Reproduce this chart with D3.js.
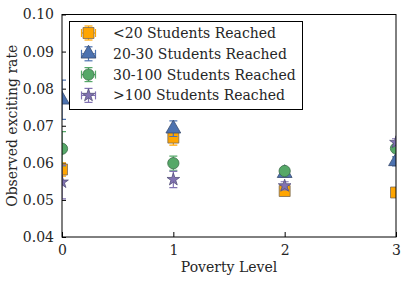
<!DOCTYPE html>
<html>
  <head>
    <meta charset="utf-8" />
    <title>Exciting rate</title>
    <script src="https://cdn.jsdelivr.net/npm/d3@7"></script>
    <style>
      body { margin: 0; background: #fff; }
      text { font-family: "DejaVu Serif", serif; fill: #262626; }
    </style>
  </head>
  <body>
    <script>
// values, one array per group
var levels = [0, 1, 2, 3];
var seriesNames = ["<20 Students Reached", "20-30 Students Reached",
                   "30-100 Students Reached", ">100 Students Reached"];
var under20   = [0.0582, 0.0668, 0.0524, 0.0520];
var under20E  = [0.0018, 0.0020, 0.0010, 0.0010];
var s20to30   = [0.0770, 0.0692, 0.0572, 0.0604];
var s20to30E  = [0.0053, 0.0021, 0.0010, 0.0012];
var s30to100  = [0.0638, 0.0599, 0.0578, 0.0639];
var s30to100E = [0.0046, 0.0019, 0.0008, 0.0010];
var over100   = [0.0548, 0.0555, 0.0538, 0.0655];
var over100E  = [0.0045, 0.0022, 0.0011, 0.0010];
var yTicks = [0.04, 0.05, 0.06, 0.07, 0.08, 0.09, 0.10];
var xTicks = [0, 1, 2, 3];

var groups = [
  {name: seriesNames[0], vals: under20,  errs: under20E,  color: "#ffa500", edge: "#7a6a55", shape: d3.symbolSquare,   size: 120},
  {name: seriesNames[1], vals: s20to30,  errs: s20to30E,  color: "#4c72b0", edge: "#3a4d70", shape: d3.symbolTriangle, size: 95},
  {name: seriesNames[2], vals: s30to100, errs: s30to100E, color: "#55a868", edge: "#3d6d4a", shape: d3.symbolCircle,   size: 100},
  {name: seriesNames[3], vals: over100,  errs: over100E,  color: "#8172b2", edge: "#55507a", shape: d3.symbolStar,     size: 50}
];

var w = 408, h = 281;
var pLeft = 62, pRight = 396, pTop = 14.5, pBottom = 237;

var svg = d3.select("body").append("svg")
  .attr("width", w).attr("height", h);

var x = d3.scaleLinear().domain([0, 3]).range([pLeft, pRight]);
var y = d3.scaleLinear().domain([0.04, 0.10]).range([pBottom, pTop]);

svg.append("clipPath").attr("id", "plot")
  .append("rect")
  .attr("x", pLeft).attr("y", pTop)
  .attr("width", pRight - pLeft).attr("height", pBottom - pTop);

// axes, ticks point inward
var yAxis = d3.axisLeft(y).tickValues(yTicks).tickFormat(d3.format(".2f"))
  .tickSizeInner(-4).tickSizeOuter(0).tickPadding(8);
var xAxis = d3.axisBottom(x).tickValues(xTicks).tickFormat(d3.format("d"))
  .tickSizeInner(-5).tickSizeOuter(0).tickPadding(8);

var gy = svg.append("g").attr("transform", "translate(" + pLeft + ",0)").call(yAxis);
var gx = svg.append("g").attr("transform", "translate(0," + pBottom + ")").call(xAxis);
[gy, gx].forEach(function(g) {
  g.select(".domain").remove();
  g.selectAll(".tick line").attr("stroke", "#000");
  g.selectAll(".tick text").style("font-size", "14px").attr("fill", "#262626");
});

var plot = svg.append("g").attr("clip-path", "url(#plot)");
var cap = 4;

groups.forEach(function(s) {
  var g = plot.append("g");
  var pts = levels.map(function(l, i) { return {x: l, v: s.vals[i], e: s.errs[i]}; });
  g.selectAll("line.bar").data(pts).enter().append("line")
    .attr("x1", function(d) { return x(d.x); })
    .attr("x2", function(d) { return x(d.x); })
    .attr("y1", function(d) { return y(d.v - d.e); })
    .attr("y2", function(d) { return y(d.v + d.e); })
    .attr("stroke", s.color).attr("stroke-width", 1.2);
  [-1, 1].forEach(function(sign) {
    g.selectAll("line.cap" + sign).data(pts).enter().append("line")
      .attr("x1", function(d) { return x(d.x) - cap; })
      .attr("x2", function(d) { return x(d.x) + cap; })
      .attr("y1", function(d) { return y(d.v + sign * d.e); })
      .attr("y2", function(d) { return y(d.v + sign * d.e); })
      .attr("stroke", s.color).attr("stroke-width", 1.2);
  });
  g.selectAll("path").data(pts).enter().append("path")
    .attr("d", d3.symbol().type(s.shape).size(s.size))
    .attr("transform", function(d) { return "translate(" + x(d.x) + "," + y(d.v) + ")"; })
    .attr("fill", s.color).attr("stroke", s.edge).attr("stroke-width", 0.8);
});

// frame
svg.append("rect")
  .attr("x", pLeft).attr("y", pTop)
  .attr("width", pRight - pLeft).attr("height", pBottom - pTop)
  .attr("fill", "none").attr("stroke", "#000").attr("stroke-width", 1);

// legend
var lg = svg.append("g");
lg.append("rect")
  .attr("x", 69.5).attr("y", 21.5).attr("width", 233).attr("height", 88)
  .attr("fill", "#fff").attr("stroke", "#000").attr("stroke-width", 1);

groups.forEach(function(s, i) {
  var cy = 33 + i * 20.8, cx = 88.5, hw = 7;
  var row = lg.append("g");
  row.append("line").attr("x1", cx).attr("x2", cx).attr("y1", cy - hw).attr("y2", cy + hw)
    .attr("stroke", s.color).attr("stroke-width", 1.2);
  row.append("line").attr("x1", cx - hw).attr("x2", cx + hw).attr("y1", cy).attr("y2", cy)
    .attr("stroke", s.color).attr("stroke-width", 1.2);
  [-hw, hw].forEach(function(o) {
    row.append("line").attr("x1", cx - cap).attr("x2", cx + cap).attr("y1", cy + o).attr("y2", cy + o)
      .attr("stroke", s.color).attr("stroke-width", 1.2);
    row.append("line").attr("x1", cx + o).attr("x2", cx + o).attr("y1", cy - cap).attr("y2", cy + cap)
      .attr("stroke", s.color).attr("stroke-width", 1.2);
  });
  row.append("path")
    .attr("d", d3.symbol().type(s.shape).size(s.size))
    .attr("transform", "translate(" + cx + "," + cy + ")")
    .attr("fill", s.color).attr("stroke", s.edge).attr("stroke-width", 0.8);
  row.append("text").attr("x", 113).attr("y", cy + 5)
    .style("font-size", "14px").text(s.name);
});

// axis titles
svg.append("text")
  .attr("x", (pLeft + pRight) / 2).attr("y", 272)
  .attr("text-anchor", "middle").style("font-size", "14px")
  .text("Poverty Level");
svg.append("text")
  .attr("transform", "translate(17," + ((pTop + pBottom) / 2) + ") rotate(-90)")
  .attr("text-anchor", "middle").style("font-size", "14px")
  .text("Observed exciting rate");
    </script>
  </body>
</html>
